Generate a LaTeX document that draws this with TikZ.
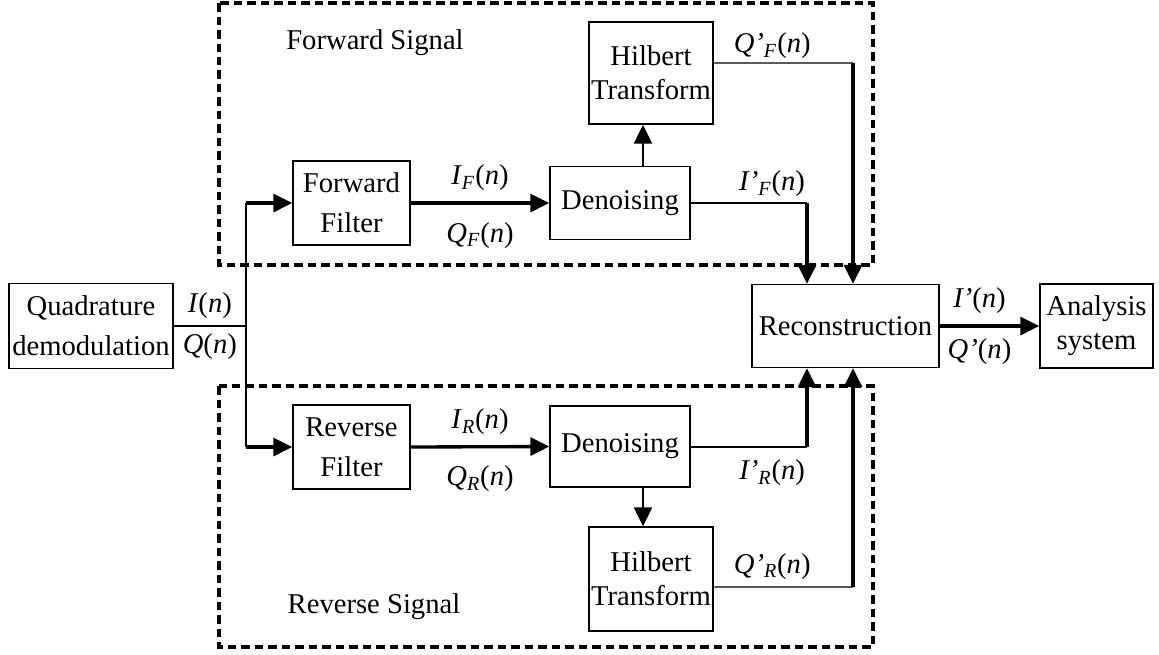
\documentclass[tikz,border=0pt]{standalone}
\usepackage{fontspec}
\setmainfont{Liberation Serif}
\usetikzlibrary{positioning, arrows.meta, calc}

\tikzset{
  blk/.style={draw, line width=0.8pt, inner sep=0pt, align=center,
    font=\fontsize{16.3}{19.3}\selectfont},
  lab/.style={font=\fontsize{16.3}{19.3}\selectfont, inner sep=1pt},
  thinline/.style={line width=0.8pt},
  arr/.style={line width=1.9pt, -{Triangle[length=0.38cm, width=0.36cm]}},
  grp/.style={line width=1.9pt, dash pattern=on 0.17cm off 0.1cm}
}
\newcommand{\sg}[2]{\textit{#1}\textsubscript{\textit{#2}}(\textit{n})}

\begin{document}
\begin{tikzpicture}[x=0.02cm, y=-0.02cm]
    \useasboundingbox (0,0) rectangle (1159,654);
    % Grupos tracejados
    \draw[grp] (219,3) rectangle (873,265);
    \draw[grp] (219,386) rectangle (873,647);
    \node[lab] (fsig) at (375,43) {Forward Signal};
    \node[lab] (rsig) at (374,607) {Reverse Signal};
    % Blocos
    \node[blk, minimum width=3.28cm, minimum height=1.70cm] (quad) at (91,326)
      {Quadrature\\[3.5pt]demodulation};
    \node[blk, minimum width=2.34cm, minimum height=1.68cm] (ffilt) at (351.5,203)
      {Forward\\[3.5pt]Filter};
    \node[blk, minimum width=2.80cm, minimum height=1.46cm] (fden) at (620,203)
      {Denoising};
    \node[blk, minimum width=2.48cm, minimum height=2.04cm] (fhil) at (651,73)
      {Hilbert\\Transform};
    \node[blk, minimum width=2.34cm, minimum height=1.68cm] (rfilt) at (351.5,447)
      {Reverse\\[3.5pt]Filter};
    \node[blk, minimum width=2.80cm, minimum height=1.62cm] (rden) at (620,446.5)
      {Denoising};
    \node[blk, minimum width=2.48cm, minimum height=2.08cm] (rhil) at (651,579)
      {Hilbert\\Transform};
    \node[blk, minimum width=3.74cm, minimum height=1.66cm] (rec) at (845.5,326)
      {Reconstruction};
    \node[blk, minimum width=2.26cm, minimum height=1.68cm] (ana) at (1096.5,326)
      {Analysis\\system};
    % Pontos de ramificação
    \coordinate (split) at (246,326);
    \coordinate (ftap) at (ffilt.west -| split);
    \coordinate (rtap) at (rfilt.west -| split);
    \coordinate (fi) at (807,203);
    \coordinate (fq) at (853,63);
    \coordinate (ri) at (807,447);
    \coordinate (rq) at (853,587);
    % Entrada
    \draw[thinline] (quad.east) -- (split)
      node[lab, midway, above=3pt] {\textit{I}(\textit{n})}
      node[lab, midway, below=3pt] {\textit{Q}(\textit{n})};
    \draw[thinline] (ftap) -- (rtap);
    \draw[arr] (ftap) -- (ffilt.west);
    \draw[arr] (rtap) -- (rfilt.west);
    % Ramo direto
    \draw[arr] (ffilt.east) -- (fden.west)
      node[lab, midway, above=5pt] {\sg{I}{F}}
      node[lab, midway, below=9pt] {\sg{Q}{F}};
    \draw[arr, line width=1.3pt] ([xshift=0.46cm]fden.north) -- ([xshift=0.46cm]fden.north |- fhil.south);
    \draw[thinline] (fden.east |- fi) -- (fi)
      node[lab, pos=0.7, above=2pt] {\sg{I’}{F}};
    \draw[thinline] ([yshift=0.2cm]fhil.east) -- (fq)
      node[lab, pos=0.42, above=1pt] {\sg{Q’}{F}};
    \draw[arr] (fi) -- (fi |- rec.north);
    \draw[arr] (fq) -- (fq |- rec.north);
    % Ramo reverso
    \draw[arr] (rfilt.east) -- (rden.west)
      node[lab, midway, above=5pt] {\sg{I}{R}}
      node[lab, midway, below=9pt] {\sg{Q}{R}};
    \draw[arr, line width=1.3pt] ([xshift=0.46cm]rden.south) -- ([xshift=0.46cm]rden.south |- rhil.north);
    \draw[thinline] (rden.east |- ri) -- (ri)
      node[lab, pos=0.7, below=6pt] {\sg{I’}{R}};
    \draw[thinline] ([yshift=-0.16cm]rhil.east) -- (rq)
      node[lab, pos=0.42, above=3pt] {\sg{Q’}{R}};
    \draw[arr] (ri) -- (ri |- rec.south);
    \draw[arr] (rq) -- (rq |- rec.south);
    % Saída
    \draw[arr] (rec.east) -- (ana.west)
      node[lab, pos=0.4, above=5pt] {\textit{I’}(\textit{n})}
      node[lab, pos=0.4, below=5pt] {\textit{Q’}(\textit{n})};
  \end{tikzpicture}
\end{document}
